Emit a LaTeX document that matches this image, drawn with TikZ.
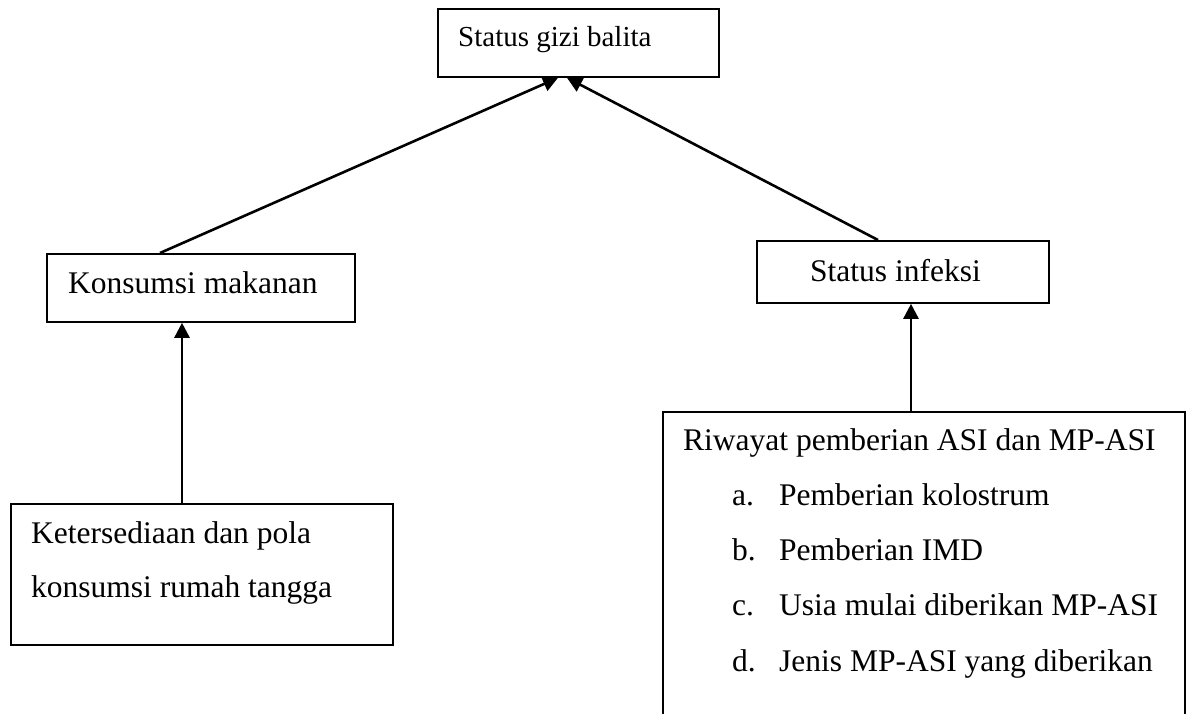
\documentclass[tikz,border=0pt]{standalone}
\usepackage{fontspec}
\setmainfont{Liberation Serif}
\usetikzlibrary{arrows.meta}

\begin{document}
\begin{tikzpicture}[x=1pt, y=-1pt,
    box/.style={draw, line width=1.8pt, inner sep=0pt, anchor=north west},
    txt/.style={anchor=base west, inner sep=0pt, font=\fontsize{31.5}{40}\selectfont},
    link/.style={line width=2.6pt, -{Triangle[length=15pt, width=15pt]}}]
    \useasboundingbox (0,0) rectangle (1192,713);
    \clip (0,0) rectangle (1192,713);

    % Boxes
    \node[box, minimum width=281pt, minimum height=68pt] (gizi) at (437,8) {};
    \node[box, minimum width=308pt, minimum height=68pt] (konsumsi) at (46,253) {};
    \node[box, minimum width=292pt, minimum height=62pt] (infeksi) at (756,240) {};
    \node[box, minimum width=382pt, minimum height=141pt] (sedia) at (10,503) {};
    \node[box, minimum width=522pt, minimum height=340pt] (riwayat) at (662,411) {};

    % Texts
    \node[txt, font=\fontsize{29}{35}\selectfont] (gizitxt) at (458,46) {Status gizi balita};
    \node[txt] (konsumsitxt) at (68,293) {Konsumsi makanan};
    \node[txt] (infeksitxt) at (810,281) {Status infeksi};
    \node[txt] (sediatxt1) at (31,543) {Ketersediaan dan pola};
    \node[txt] (sediatxt2) at (31,597) {konsumsi rumah tangga};
    \node[txt] (riwayattxt) at (683,450) {Riwayat pemberian ASI dan MP-ASI};
    \foreach \lab/\item [count=\i] in {a./Pemberian kolostrum, b./Pemberian IMD,
        c./Usia mulai diberikan MP-ASI, d./Jenis MP-ASI yang diberikan}
    {
        \node[txt] (lab\i) at (732,{450+55.3*\i}) {\lab};
        \node[txt] (item\i) at (779,{450+55.3*\i}) {\item};
    }

    % Connectors
    \coordinate (giziL) at ([xshift=121pt]gizi.south west);
    \coordinate (giziR) at ([xshift=130pt]gizi.south west);
    \draw[link] ([xshift=114pt]konsumsi.north west) -- (giziL);
    \draw[link] ([xshift=122pt]infeksi.north west) -- (giziR);
    \draw[link] ([xshift=172pt]sedia.north west) -- ([xshift=136pt]konsumsi.south west);
    \draw[link] ([xshift=249pt]riwayat.north west) -- ([xshift=155pt]infeksi.south west);
\end{tikzpicture}
\end{document}
